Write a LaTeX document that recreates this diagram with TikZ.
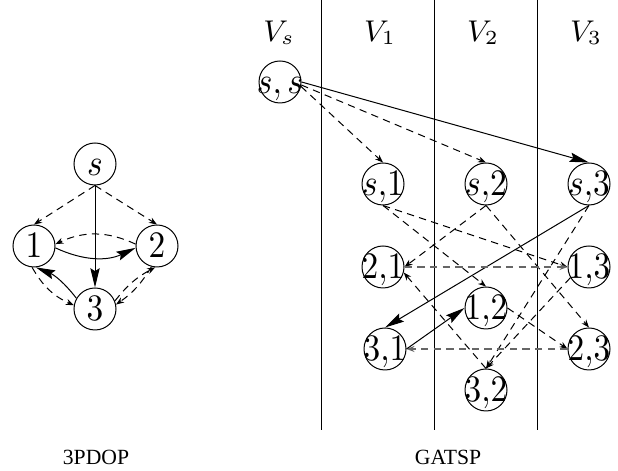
\documentclass[tikz,border=0pt]{standalone}
\usepackage{graphicx}
\usepackage{fontspec}
\newfontfamily\capfont{Liberation Serif}
\usetikzlibrary{arrows.meta}
% vertex label: centred, allowed to overflow the circle
\newcommand{\vlab}[1]{\makebox[0pt]{\scalebox{1}[1.12]{$#1$}}}
\begin{document}
\begin{tikzpicture}[x=0.3pt,y=-0.3pt,
  vert/.style={circle,draw,line width=0.3pt,minimum size=12.6pt,inner sep=0pt,
               text height=7.2pt,text depth=0pt},
  sedge/.style={line width=0.3pt,-{Stealth[length=5.8pt,width=2.8pt,inset=0.9pt]}},
  dedge/.style={line width=0.3pt,dash pattern=on 2.2pt off 1.6pt,
                -{Stealth[length=2.4pt,width=1.8pt]}},
  hedge/.style={dedge,line width=0.5pt,black!60},
  divider/.style={line width=0.3pt},
  setname/.style={font=\fontsize{8.8}{10}\selectfont},
  caption/.style={font=\capfont\fontsize{6.5}{7}\selectfont},
]
\useasboundingbox (0,0) rectangle (618,471);

% ---------- 3PDOP ----------
\node[vert] (ps) at (95,164) {\vlab{s}};
\node[vert] (p1) at (34,246) {\vlab{1}};
\node[vert] (p2) at (157,246) {\vlab{2}};
\node[vert] (p3) at (95,309) {\vlab{3}};

\draw[dedge] (ps.south) -- (p1.north);
\draw[dedge] (ps.south) -- (p2.north);
\draw[sedge] (ps.south) -- (p3.north);
\draw[sedge] (p1.-5) to[bend right=25] (p2.185);
\draw[dedge] (p2.175) to[bend right=25] (p1.5);
\draw[sedge] (p3.150) to[bend right=15] (p1.-85);
\draw[dedge] (p1.-95) to[bend right=18] (p3.170);
\draw[dedge] (p2.-105) to[bend left=12] (p3.12);
\draw[dedge] (p3.22) to[bend left=12] (p2.-95);

\node[caption] (cap1) at (96,457.5) {3PDOP};

% ---------- GATSP ----------
\draw[divider] (321.7,0) -- (321.7,430);
\draw[divider] (434,0) -- (434,430);
\draw[divider] (537,0) -- (537,430);

\node[setname] (vs) at (279,33) {$V_s$};
\node[setname] (v1) at (380,33) {$V_1$};
\node[setname] (v2) at (483,33) {$V_2$};
\node[setname] (v3) at (586,33) {$V_3$};

\node[vert] (gss) at (280,82)  {\vlab{s{,}\,s}};
\node[vert] (gs1) at (383,184) {\vlab{s{,}1}};
\node[vert] (gs2) at (486,184) {\vlab{s{,}2}};
\node[vert] (gs3) at (589,184) {\vlab{s{,}3}};
\node[vert] (g21) at (383,267) {\vlab{2{,}1}};
\node[vert] (g13) at (589,267) {\vlab{1{,}3}};
\node[vert] (g12) at (486,308) {\vlab{1{,}2}};
\node[vert] (g31) at (385,349) {\vlab{3{,}1}};
\node[vert] (g23) at (589,349) {\vlab{2{,}3}};
\node[vert] (g32) at (486,390) {\vlab{3{,}2}};

\draw[dedge] (gss.-12) -- (gs1.north);
\draw[dedge] (gss.-8) -- (gs2.north);
\draw[sedge] (gss.east) -- (gs3.north);

\draw[dedge] (gs1.south) -- (g13.west);
\draw[dedge] (gs1.south) -- (g12.north);
\draw[dedge] (gs2.south) -- (g21.east);
\draw[dedge] (gs2.south) -- (g23.north);
\draw[sedge] (gs3.south) -- (g31.north);
\draw[dedge] (gs3.south) -- (g32.north);

\draw[hedge] (g21.east) -- (g13.west);
\draw[dedge] (g13.210) -- (g32.north);
\draw[dedge] (g12.east) -- (g23.west);
\draw[hedge] (g23.west) -- (g31.east);
\draw[sedge] (g31.east) -- (g12.west);
\draw[dedge] (g32.north) -- (g21.-15);

\node[caption] (cap2) at (448,457.5) {GATSP};
\end{tikzpicture}
\end{document}
